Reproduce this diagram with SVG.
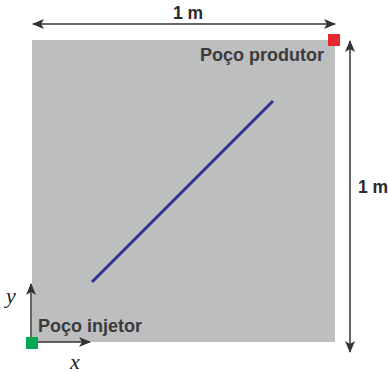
<svg xmlns="http://www.w3.org/2000/svg" width="388" height="373" viewBox="0 0 388 373">
<style>
.lbl{font-family:"Liberation Sans",Arial,sans-serif;font-weight:bold;font-size:18px;fill:#3b3b3b;}
.dim{font-family:"Liberation Sans",Arial,sans-serif;font-weight:bold;font-size:17.5px;fill:#2b2b2b;}
.ax{font-family:"Liberation Serif","Times New Roman",serif;font-style:italic;font-size:22px;fill:#222;}
.arr{stroke:#333;stroke-width:1.5;fill:none;}
</style>
<defs>
<marker id="ah" viewBox="0 0 12 10" refX="11" refY="5" markerWidth="12" markerHeight="10" markerUnits="userSpaceOnUse" orient="auto-start-reverse">
<path d="M0,0 L12,5 L0,10 L3,5 Z" fill="#333"/>
</marker>
</defs>
<g id="domain">
<rect x="32" y="40" width="303" height="302" fill="#bdbec0"/>
</g>
<g id="fracture">
<line x1="92" y1="282" x2="273" y2="101" stroke="#2e3192" stroke-width="3"/>
</g>
<g id="connectors">
<line class="arr" x1="33" y1="24" x2="335" y2="24" marker-start="url(#ah)" marker-end="url(#ah)"/>
<line class="arr" x1="350" y1="41" x2="350" y2="352" marker-start="url(#ah)" marker-end="url(#ah)"/>
<line class="arr" x1="31" y1="343" x2="31" y2="284" marker-end="url(#ah)"/>
<line class="arr" x1="31" y1="342" x2="90" y2="342" marker-end="url(#ah)"/>
</g>
<g id="dim-top"><text class="dim" x="173" y="19">1 m</text></g>
<g id="dim-right"><text class="dim" x="358" y="193">1 m</text></g>
<g id="producer">
<rect x="328" y="34" width="12" height="12" fill="#e8262e"/>
<text class="lbl" x="200" y="61">Poço produtor</text>
</g>
<g id="injector">
<rect x="26" y="337" width="12" height="12" fill="#00a650"/>
<text class="lbl" x="38" y="332">Poço injetor</text>
</g>
<g id="axes-labels">
<text class="ax" x="6" y="303">y</text>
<text class="ax" x="70" y="369">x</text>
</g>
</svg>
